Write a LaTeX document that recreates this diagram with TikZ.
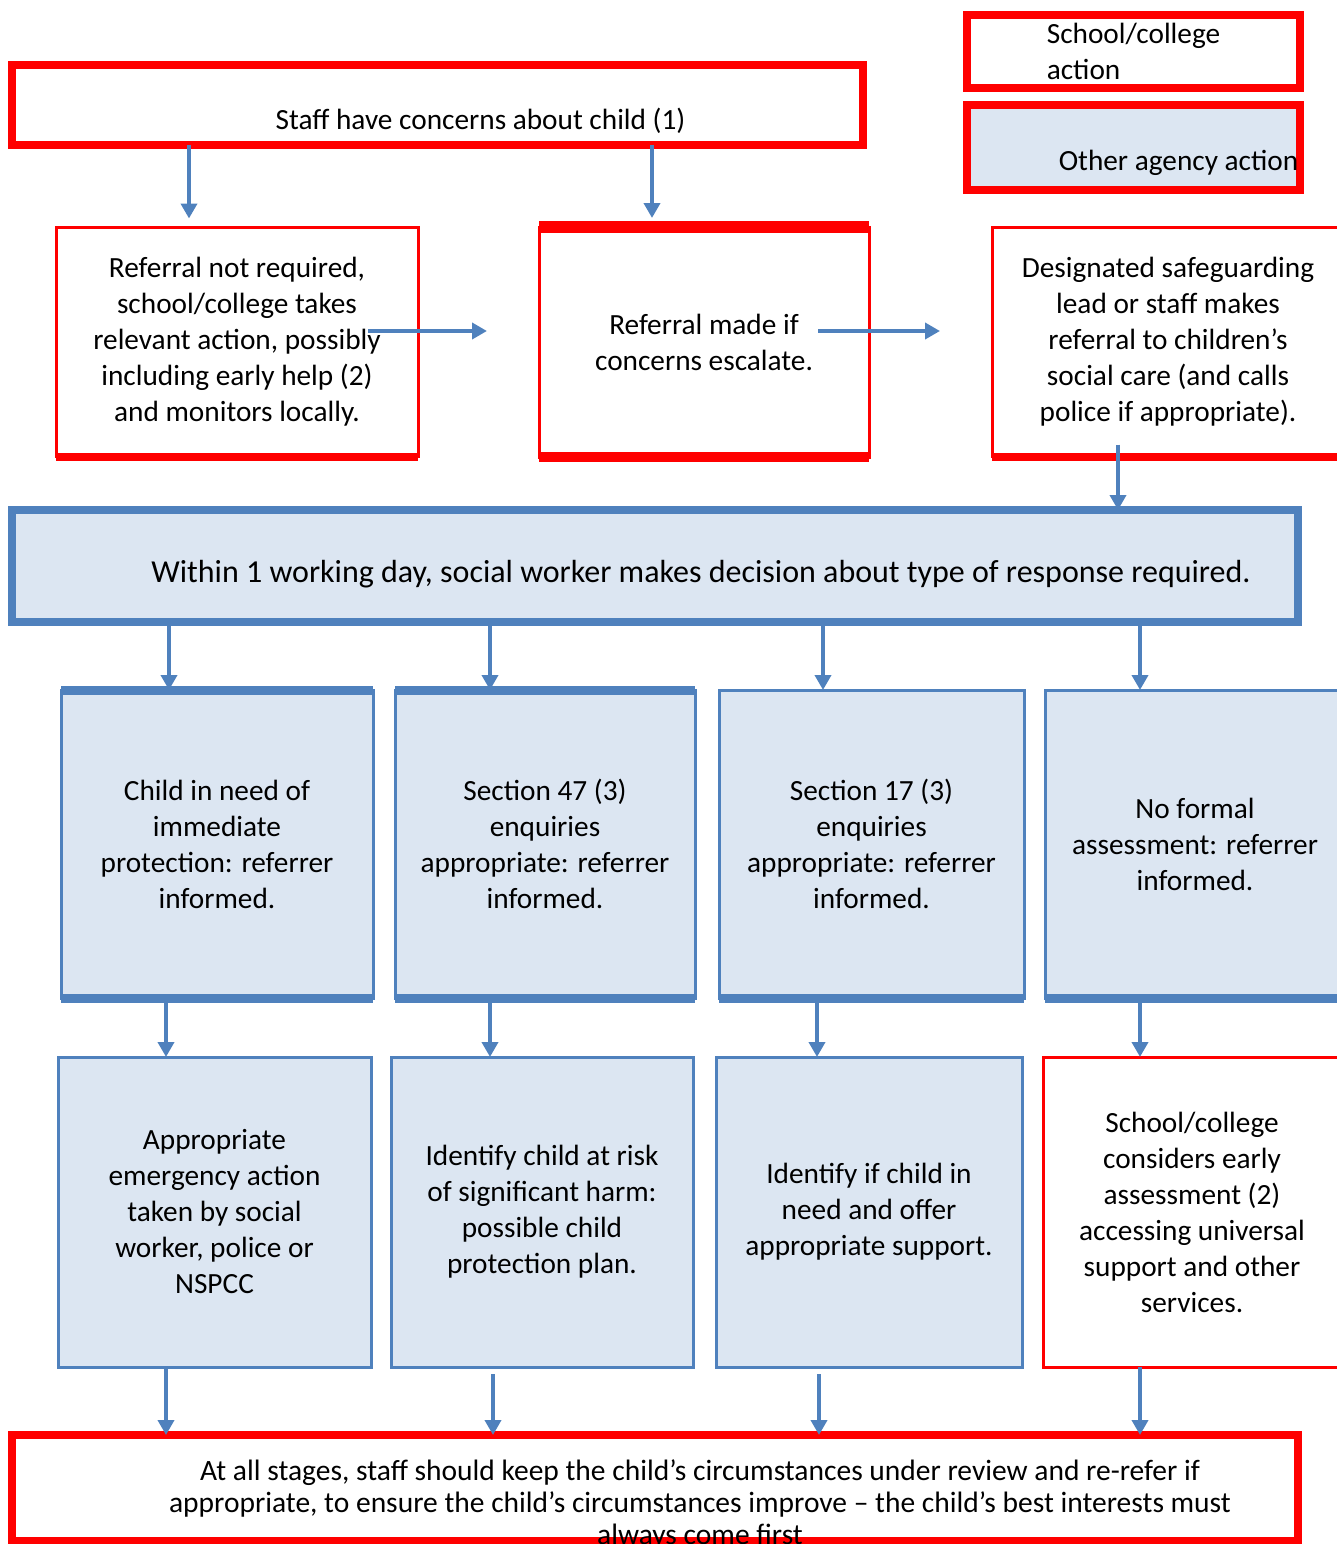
\documentclass[tikz,border=0pt]{standalone}
\usepackage{fontspec}
\setmainfont{Carlito}
\usetikzlibrary{arrows.meta,positioning}
\definecolor{flowred}{RGB}{255,0,0}
\definecolor{flowblue}{RGB}{79,129,189}
\definecolor{paleblue}{RGB}{220,230,242}

\begin{document}
\begin{tikzpicture}[x=1pt, y=-1pt, node distance=20pt]
    % Define styles
    \tikzstyle{redbox}=[rectangle,draw=flowred,line width=3pt,fill=white,inner sep=0pt,outer sep=0pt,align=center,font=\fontsize{29.3}{36}\selectfont]
    \tikzstyle{bluebox}=[rectangle,draw=flowblue,line width=3pt,fill=paleblue,inner sep=0pt,outer sep=0pt,align=center,font=\fontsize{29.3}{36}\selectfont]
    \tikzstyle{boxtext}=[inner sep=0pt,align=center,font=\fontsize{29.3}{36}\selectfont]
    \tikzstyle{redrule}=[draw=flowred,line width=8pt]
    \tikzstyle{bluerule}=[draw=flowblue,line width=9pt]
    \tikzstyle{line}=[draw=flowblue,line width=4.5pt,-{Triangle[length=15pt,width=16pt]}]

    \useasboundingbox (0,0) rectangle (1337,1544);

    % Legend
    \node [redbox, line width=8pt, align=left, minimum width=333pt, minimum height=73pt] (legend1) at (1133.5,51.5) {School/college\\action};
    \node [redbox, line width=8pt, fill=paleblue, minimum width=333pt, minimum height=85pt, below=17pt of legend1] (legend2) {};
    \node [boxtext] (legend2text) at ([xshift=45pt,yshift=-15pt]legend2.center) {Other agency action};

    % Concern
    \node [redbox, line width=8pt, minimum width=851pt, minimum height=80pt] (top) at (437.5,105) {};
    \node [boxtext] (toptext) at ([xshift=43pt,yshift=-16pt]top.center) {Staff have concerns about child (1)};

    % Referral row
    \node [redbox, minimum width=362pt, minimum height=229pt] (boxA) at (237,342) {Referral not required,\\school/college takes\\relevant action, possibly\\including early help (2)\\and monitors locally.};
    \node [redbox, minimum width=330pt, minimum height=230pt, right=121pt of boxA] (boxB) {Referral made if\\concerns escalate.};
    \node [redbox, minimum width=352pt, minimum height=229pt, right=123pt of boxB] (boxC) {Designated safeguarding\\lead or staff makes\\referral to children’s\\social care (and calls\\police if appropriate).};
    \path [redrule] (boxA.south west) -- (boxA.south east);
    \path [redrule, line width=12pt] (boxB.north west) -- (boxB.north east);
    \path [redrule, line width=10pt] (boxB.south west) -- (boxB.south east);
    \path [redrule] (boxC.south west) -- (boxC.south east);

    % Decision
    \node [bluebox, line width=8pt, minimum width=1286pt, minimum height=112pt] (main) at (655,566) {};
    \node [boxtext, font=\fontsize{32}{38}\selectfont] (maintext) at ([xshift=46pt,yshift=-8pt]main.center) {Within 1 working day, social worker makes decision about type of response required.};

    % Response row
    \node [bluebox, minimum width=312pt, minimum height=308pt] (d1) at (217,844) {Child in need of\\immediate\\protection: referrer\\informed.};
    \node [bluebox, minimum width=300pt, minimum height=308pt, right=22pt of d1] (d2) {Section 47 (3)\\enquiries\\appropriate: referrer\\informed.};
    \node [bluebox, minimum width=305pt, minimum height=308pt, right=24pt of d2] (d3) {Section 17 (3)\\enquiries\\appropriate: referrer\\informed.};
    \node [bluebox, minimum width=300pt, minimum height=308pt, right=21pt of d3] (d4) {No formal\\assessment: referrer\\informed.};
    \path [bluerule] (d1.north west) -- (d1.north east);
    \path [bluerule] (d1.south west) -- (d1.south east);
    \path [bluerule] (d2.north west) -- (d2.north east);
    \path [bluerule] (d2.south west) -- (d2.south east);
    \path [bluerule] (d3.south west) -- (d3.south east);
    \path [bluerule] (d4.south west) -- (d4.south east);

    % Outcome row
    \node [bluebox, minimum width=313pt, minimum height=310pt] (e1) at (214.5,1212) {Appropriate\\emergency action\\taken by social\\worker, police or\\NSPCC};
    \node [bluebox, minimum width=302pt, minimum height=310pt, right=20pt of e1] (e2) {Identify child at risk\\of significant harm:\\possible child\\protection plan.};
    \node [bluebox, minimum width=306pt, minimum height=310pt, right=23pt of e2] (e3) {Identify if child in\\need and offer\\appropriate support.};
    \node [redbox, minimum width=298pt, minimum height=310pt, right=21pt of e3] (e4) {School/college\\considers early\\assessment (2)\\accessing universal\\support and other\\services.};

    % Review
    \node [redbox, line width=8pt, minimum width=1286pt, minimum height=106pt] (bottom) at (655,1488) {};
    \node [boxtext, font=\fontsize{29.5}{32}\selectfont] (bottomtext) at ([xshift=45pt,yshift=-16pt]bottom.center) {At all stages, staff should keep the child’s circumstances under review and re-refer if\\appropriate, to ensure the child’s circumstances improve – the child’s best interests must\\always come first};

    % Define connections
    \path [line] ([xshift=-48pt]boxA.north |- top.south) -- ([xshift=-48pt,yshift=9pt]boxA.north);
    \path [line] ([xshift=-52pt]boxB.north |- top.south) -- ([xshift=-52pt,yshift=9pt]boxB.north);
    \path [line] ([xshift=-50pt,yshift=11pt]boxA.east) -- ([xshift=-52pt,yshift=11pt]boxB.west);
    \path [line] ([xshift=-51pt,yshift=11pt]boxB.east) -- ([xshift=-52pt,yshift=11pt]boxC.west);
    \path [line] ([xshift=-50pt,yshift=12pt]boxC.south) -- ([xshift=-50pt]boxC.south |- main.north);

    \path [line] ([xshift=-48pt]d1.north |- main.south) -- ([xshift=-48pt]d1.north);
    \path [line] ([xshift=-55pt]d2.north |- main.south) -- ([xshift=-55pt]d2.north);
    \path [line] ([xshift=-48.5pt]d3.north |- main.south) -- ([xshift=-48.5pt]d3.north);
    \path [line] ([xshift=-55pt]d4.north |- main.south) -- ([xshift=-55pt]d4.north);

    \path [line] ([xshift=-48.5pt]e1.north |- d1.south) -- ([xshift=-48.5pt]e1.north);
    \path [line] ([xshift=-52pt]e2.north |- d2.south) -- ([xshift=-52pt]e2.north);
    \path [line] ([xshift=-52pt]e3.north |- d3.south) -- ([xshift=-52pt]e3.north);
    \path [line] ([xshift=-52pt]e4.north |- d4.south) -- ([xshift=-52pt]e4.north);

    \path [line] ([xshift=-48.5pt]e1.south) -- ([xshift=-48.5pt]e1.south |- bottom.north);
    \path [line] ([xshift=-49pt,yshift=-7pt]e2.south) -- ([xshift=-49pt]e2.south |- bottom.north);
    \path [line] ([xshift=-50pt,yshift=-7pt]e3.south) -- ([xshift=-50pt]e3.south |- bottom.north);
    \path [line] ([xshift=-52pt]e4.south) -- ([xshift=-52pt]e4.south |- bottom.north);
\end{tikzpicture}
\end{document}
